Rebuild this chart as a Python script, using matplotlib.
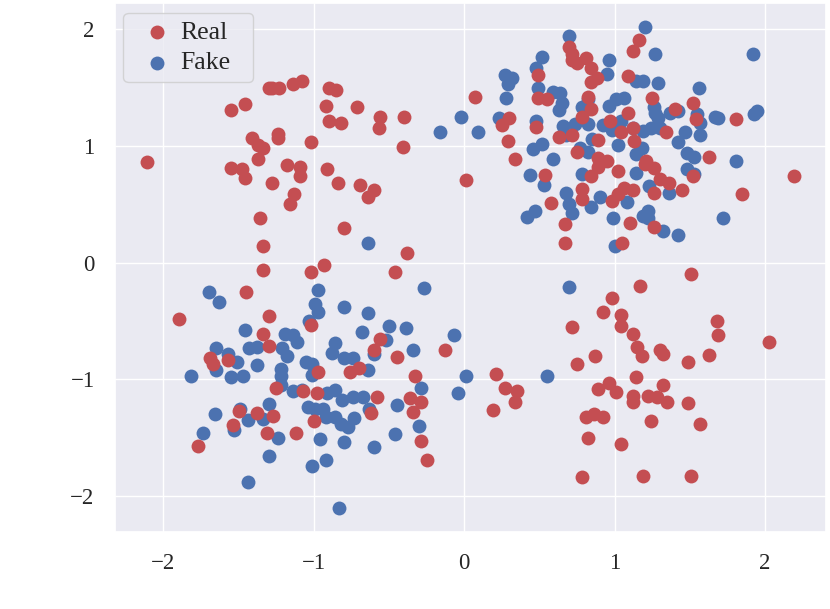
import matplotlib
matplotlib.use("Agg")
import matplotlib.pyplot as plt
import seaborn as sns
import numpy as np

# real samples
real_x = [-2.11, -1.55, -1.46, -1.30, -1.28, -1.23, -1.14, -1.08, -0.90, -0.85, -0.92, -0.71,
          -0.56, -0.57, -0.40, -0.90, -0.82, -1.41, -1.24, -1.24, -1.37, -1.34, -1.02, -0.41,
          -1.37, -1.55, -1.48, -1.46, -1.18, -1.09, -1.09, -1.28, -0.91, -0.84, -0.69, -0.60,
          -0.64, -1.13, -1.16, -1.36, -0.80, -1.34, -0.38, -1.34, -1.02, -0.93, -0.46,
          0.70, 0.72, 0.72, 0.75, 0.81, 0.84, 0.88, 0.84, 0.49, 0.07, 0.49, 0.55, 0.82, 0.84,
          0.30, 0.25, 0.48, 0.78, 0.97, 0.63, 0.72, 0.29, 0.89, 0.34, 0.75, 0.89, 0.95,
          1.16, 1.12, 1.09, 1.25, 1.52, 1.40, 1.09, 1.04, 1.12, 1.13, 1.34, 1.54, 1.81, 1.63, 1.21,
          0.54, 0.58, 0.67, 0.67, 0.78, 0.78, 0.84, 0.89, 1.02, 0.98, 1.02, 1.06, 1.12, 1.05,
          1.10, 1.20, 1.26, 1.30, 1.36, 1.26, 1.26, 1.45, 1.52, 1.85, 2.19, 0.01,
          -1.45, -1.90, -1.30, -1.34, -1.30, -1.69, -1.67, -1.57, -1.02, -0.97, -1.25, -1.07,
          -0.98, -0.76, -0.70, -0.56, -0.60, -0.45, -0.13, -0.33, -0.36, -0.29, -0.34, -0.58,
          -0.62, -1.50, -1.38, -1.27, -1.54, -1.00, -1.31, -1.12, -0.29, -0.25, -1.77,
          0.21, 0.27, 0.35, 0.34, 0.19, 0.72, 0.75, 0.87, 0.92, 0.98, 1.04, 1.04, 1.12, 1.15,
          1.18, 1.17, 1.51, 1.30, 1.32, 1.49, 1.63, 1.68, 1.69, 2.03, 0.89, 0.96, 1.01, 1.14,
          1.12, 1.12, 1.22, 1.28, 1.32, 1.35, 1.49, 1.57, 1.24, 0.81, 0.86, 0.92, 0.82, 1.04,
          0.78, 1.19, 1.51]
real_y = [0.86, 1.31, 1.36, 1.50, 1.50, 1.50, 1.53, 1.56, 1.50, 1.48, 1.34, 1.33,
          1.25, 1.15, 1.25, 1.21, 1.20, 1.07, 1.10, 1.07, 1.01, 0.98, 1.03, 0.99,
          0.89, 0.81, 0.80, 0.73, 0.84, 0.82, 0.74, 0.68, 0.80, 0.68, 0.67, 0.62,
          0.56, 0.59, 0.50, 0.38, 0.30, 0.14, 0.08, -0.06, -0.08, -0.02, -0.08,
          1.85, 1.79, 1.74, 1.71, 1.75, 1.67, 1.58, 1.55, 1.61, 1.42, 1.41, 1.40, 1.42, 1.32,
          1.24, 1.18, 1.16, 1.25, 1.21, 1.08, 1.09, 1.04, 1.05, 0.89, 0.95, 0.90, 0.87,
          1.91, 1.81, 1.60, 1.41, 1.37, 1.32, 1.28, 1.12, 1.15, 1.04, 1.12, 1.23, 1.23, 0.91, 0.87,
          0.75, 0.51, 0.33, 0.17, 0.63, 0.55, 0.74, 0.82, 0.79, 0.53, 0.59, 0.64, 0.62, 0.17,
          0.34, 0.85, 0.81, 0.72, 0.68, 0.60, 0.31, 0.62, 0.74, 0.59, 0.74, 0.71,
          -0.25, -0.48, -0.46, -0.61, -0.71, -0.82, -0.87, -0.83, -0.53, -0.94, -1.07, -1.10,
          -1.12, -0.94, -0.90, -0.65, -0.75, -0.81, -0.75, -0.97, -1.16, -1.19, -1.28, -1.15,
          -1.29, -1.27, -1.29, -1.31, -1.39, -1.36, -1.46, -1.46, -1.53, -1.69, -1.57,
          -0.95, -1.07, -1.10, -1.19, -1.26, -0.55, -0.87, -0.80, -0.42, -0.30, -0.45, -0.54, -0.61, -0.72,
          -0.80, -0.20, -0.10, -0.75, -0.78, -0.85, -0.79, -0.50, -0.62, -0.68, -1.08, -1.03, -1.11, -0.98,
          -1.14, -1.19, -1.14, -1.15, -1.05, -1.19, -1.20, -1.38, -1.36, -1.32, -1.30, -1.32, -1.50, -1.55,
          -1.84, -1.83, -1.83]

# generated samples
fake_x = [-0.64, -0.16,
          0.70, 0.52, 0.48, 0.96, 0.95, 0.27, 0.32, 0.29, 0.49, 0.59, 0.64, 0.65, 0.63, 0.28,
          0.82, 0.78, 0.96, 1.01, -0.02, 0.23, 0.09, 0.48, 0.66, 0.74, 0.82, 0.92, 0.68, 0.85,
          0.52, 0.46, 0.59, 0.77, 0.82, 1.02, 0.98,
          1.20, 1.27, 1.92, 1.14, 1.19, 1.29, 1.56, 1.06, 1.26, 1.27, 1.37, 1.42, 1.55, 1.57,
          1.67, 1.69, 1.93, 1.95, 1.04, 1.12, 1.19, 1.24, 1.30, 1.29, 1.47, 1.57, 1.42, 1.14,
          1.18, 1.48, 1.53, 1.81,
          0.44, 0.53, 0.42, 0.47, 0.68, 0.70, 0.72, 0.78, 0.84, 0.90, 0.99, 1.00, 1.08, 1.14,
          1.19, 1.22, 1.22, 1.23, 1.32, 1.36, 1.42, 1.48, 1.53, 1.72,
          -1.70, -1.63, -0.97, -0.99, -0.97, -0.80, -0.64, -0.27, -1.03, -0.68, -0.50, -0.39,
          -0.52, -1.46, -1.65, -1.57, -1.51, -1.65, -1.55, -1.47, -1.82, -1.43, -1.38, -1.38,
          -1.19, -1.14, -1.11, -1.21, -1.18, -1.22, -1.22, -1.22, -1.14, -1.08, -1.05, -1.01,
          -1.01, -0.86, -0.88, -0.80, -0.74, -0.60, -0.64, -0.34, -0.29, -0.07, -0.04, -0.91,
          -0.86, -0.81, -0.74, -0.67, -0.63, -0.45, -1.30, -1.49, -1.44, -1.34, -1.66, -1.53,
          -1.74, -1.04, -0.99, -0.94, -0.92, -0.86, -0.82, -0.77, -0.73, -1.24, -0.96, -0.80,
          -0.60, -0.46, -0.30, -1.30, -1.01, -0.92, -1.44, -0.83,
          0.01, 0.70, 0.55]
fake_y = [0.17, 1.12,
          1.94, 1.76, 1.67, 1.74, 1.62, 1.61, 1.58, 1.53, 1.50, 1.46, 1.45, 1.37, 1.31, 1.41,
          1.40, 1.33, 1.34, 1.40, 1.25, 1.24, 1.12, 1.21, 1.17, 1.19, 1.19, 1.18, 1.09, 1.06,
          1.02, 0.97, 0.89, 0.98, 0.95, 1.01, 1.14,
          2.02, 1.79, 1.79, 1.56, 1.56, 1.54, 1.50, 1.41, 1.33, 1.28, 1.28, 1.30, 1.27, 1.20,
          1.25, 1.24, 1.27, 1.30, 1.21, 1.15, 1.13, 1.15, 1.15, 1.24, 1.12, 1.09, 1.03, 0.93,
          0.98, 0.94, 0.91, 0.87,
          0.75, 0.67, 0.39, 0.44, 0.60, 0.50, 0.43, 0.76, 0.48, 0.56, 0.38, 0.14, 0.52, 0.77,
          0.40, 0.44, 0.38, 0.66, 0.27, 0.60, 0.24, 0.80, 0.76, 0.38,
          -0.25, -0.34, -0.23, -0.35, -0.42, -0.38, -0.43, -0.22, -0.50, -0.59, -0.54, -0.56,
          -0.66, -0.58, -0.73, -0.78, -0.85, -0.92, -0.98, -0.97, -0.97, -0.73, -0.72, -0.88,
          -0.61, -0.62, -0.68, -0.73, -0.80, -0.91, -0.97, -1.05, -1.10, -1.09, -0.85, -0.87,
          -0.96, -0.69, -0.77, -0.82, -0.82, -0.78, -0.92, -0.75, -1.07, -0.62, -1.12, -1.12,
          -1.09, -1.18, -1.15, -1.15, -1.25, -1.22, -1.21, -1.25, -1.35, -1.34, -1.30, -1.43,
          -1.46, -1.24, -1.25, -1.25, -1.32, -1.32, -1.38, -1.41, -1.33, -1.50, -1.51, -1.54,
          -1.58, -1.47, -1.40, -1.66, -1.74, -1.69, -1.88, -2.10,
          -0.97, -0.21, -0.97]

ticks = [-2, -1, 0, 1, 2]

sns.set_theme(style="darkgrid")
plt.rcParams['font.family'] = ['Liberation Serif', 'DejaVu Serif']

fig = plt.figure(figsize=(8.3, 6.09), dpi=100)
ax = fig.add_axes([0.139, 0.126, 0.856, 0.869])

fake = ax.scatter(fake_x, fake_y, s=100, color="#4C72B0", linewidths=0, zorder=2)
real = ax.scatter(real_x, real_y, s=100, color="#C44E52", linewidths=0, zorder=3)

ax.set_xlim(-2.32, 2.405)
ax.set_ylim(-2.31, 2.225)
ax.set_xticks(ticks)
ax.set_yticks(ticks)
ax.tick_params(labelsize=16.5, pad=9)

ax.legend([real, fake], ["Real", "Fake"], loc="upper left", fontsize=18.5,
          bbox_to_anchor=(0.0113, 0.0, 0.182, 0.981), mode="expand", borderaxespad=0,
          handlelength=2.0, handletextpad=-0.1, borderpad=0.3, labelspacing=0.3)

fig.savefig("out.png", dpi=100)
